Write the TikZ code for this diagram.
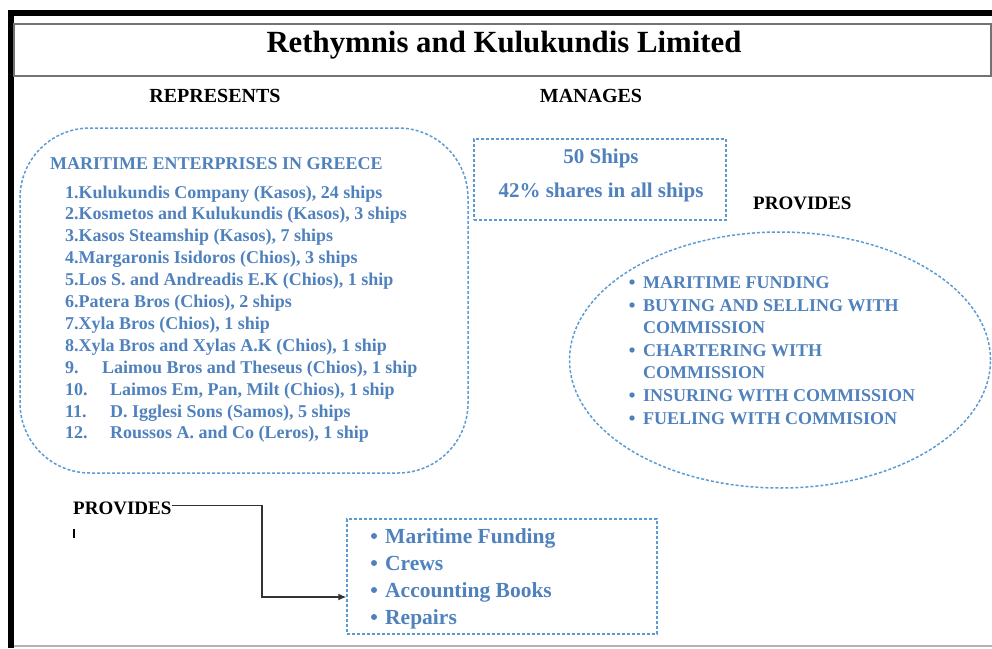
\documentclass[tikz,border=0pt]{standalone}
\usepackage[rgb]{xcolor}
\usepackage{fontspec}
\setmainfont{Liberation Serif}
\usepackage{tikz}
\usetikzlibrary{arrows.meta,shapes.geometric}

\definecolor{textblue}{RGB}{79,129,189}
\definecolor{lineblue}{RGB}{91,155,213}

\tikzset{
  dashbox/.style={draw=lineblue, line width=1.5pt, dash pattern=on 3pt off 2pt},
  head/.style={font=\fontsize{20}{22}\selectfont\bfseries, text=black, inner sep=0pt, anchor=base},
  entry/.style={font=\fontsize{18}{20}\selectfont\bfseries, text=textblue, anchor=base west, inner sep=0pt},
  bigentry/.style={entry, font=\fontsize{21.5}{24}\selectfont\bfseries},
}

\begin{document}
\begin{tikzpicture}[x=1pt, y=-1pt]
\useasboundingbox (0,0) rectangle (992,648);

%% page frame and title bar
\fill[black] (8,10) rectangle (992,16);
\fill[black] (8,10) rectangle (14,648);
\draw[black!55, line width=1.5pt] (14,24) rectangle (991,76);
\draw[black!30, line width=1.5pt] (14,646) -- (992,646);
\node[head, font=\fontsize{30.8}{32}\selectfont\bfseries] (title) at (504,52) {Rethymnis and Kulukundis Limited};

%% column headings
\node[head] (represents) at (215,102) {REPRESENTS};
\node[head] (manages) at (591,102) {MANAGES};
\node[head, anchor=base west, font=\fontsize{19}{21}\selectfont\bfseries] (provright) at (753,209) {PROVIDES};

%% boxes
\node[dashbox, rounded corners=70pt, minimum width=448pt, minimum height=345pt] (greece) at (244,300.5) {};
\node[dashbox, minimum width=252pt, minimum height=81pt] (fleet) at (600,179.5) {};
\node[dashbox, ellipse, minimum width=421pt, minimum height=256pt] (services) at (780,360) {};
\node[dashbox, minimum width=310pt, minimum height=115pt] (support) at (502,576.5) {};

%% enterprises in greece
\node[entry] (greecehead) at (50,169) {MARITIME ENTERPRISES IN GREECE};
\foreach \txt [count=\i] in {
  {1.Kulukundis Company (Kasos), 24 ships},
  {2.Kosmetos and Kulukundis (Kasos), 3 ships},
  {3.Kasos Steamship (Kasos), 7 ships},
  {4.Margaronis Isidoros (Chios), 3 ships},
  {5.Los S. and Andreadis E.K (Chios), 1 ship},
  {6.Patera Bros (Chios), 2 ships},
  {7.Xyla Bros (Chios), 1 ship},
  {8.Xyla Bros and Xylas A.K (Chios), 1 ship}}
  \node[entry] (ent\i) at (65,{198+21.9*(\i-1)}) {\txt};
\foreach \n/\x/\txt [count=\i from 9] in {
  9./102/{Laimou Bros and Theseus (Chios), 1 ship},
  10./110/{Laimos Em, Pan, Milt (Chios), 1 ship},
  11./110/{D. Igglesi Sons (Samos), 5 ships},
  12./110/{Roussos A. and Co (Leros), 1 ship}}
{
  \node[entry] (num\i) at (65,{198+21.9*(\i-1)}) {\n};
  \node[entry] (ent\i) at (\x,{198+21.9*(\i-1)}) {\txt};
}

%% managed fleet
\node[entry, anchor=base, font=\fontsize{21}{23}\selectfont\bfseries] (ships) at (601,163) {50 Ships};
\node[entry, anchor=base, font=\fontsize{21}{23}\selectfont\bfseries] (shares) at (601,197) {42\% shares in all ships};

%% services in the ellipse
\foreach \y/\b/\txt [count=\i] in {
  288/1/MARITIME FUNDING,
  311/1/BUYING AND SELLING WITH,
  333/0/COMMISSION,
  356/1/CHARTERING WITH,
  378/0/COMMISSION,
  401/1/INSURING WITH COMMISSION,
  424/1/FUELING WITH COMMISION}
{
  \node[entry] (serv\i) at (643,\y) {\txt};
  \ifnum\b=1 \fill[textblue] (632,\y-6) circle (2.7pt); \fi
}

%% provided to the enterprises
\node[head, anchor=base west, font=\fontsize{19}{21}\selectfont\bfseries] (provleft) at (73,514) {PROVIDES};
\draw[line width=1.5pt] (74,529) -- (74,538);
\foreach \y/\txt [count=\i] in {543/Maritime Funding, 570/Crews, 597/Accounting Books, 624/Repairs}
{
  \node[bigentry] (supp\i) at (385,\y) {\txt};
  \fill[textblue] (374,\y-7) circle (3pt);
}
\coordinate (bend) at (262,597);
\draw[black!80, line width=1.2pt, -{Latex[length=8pt,width=7pt]}] ([yshift=2pt]provleft.east) -| (bend) -- (bend -| support.west);

\end{tikzpicture}
\end{document}
